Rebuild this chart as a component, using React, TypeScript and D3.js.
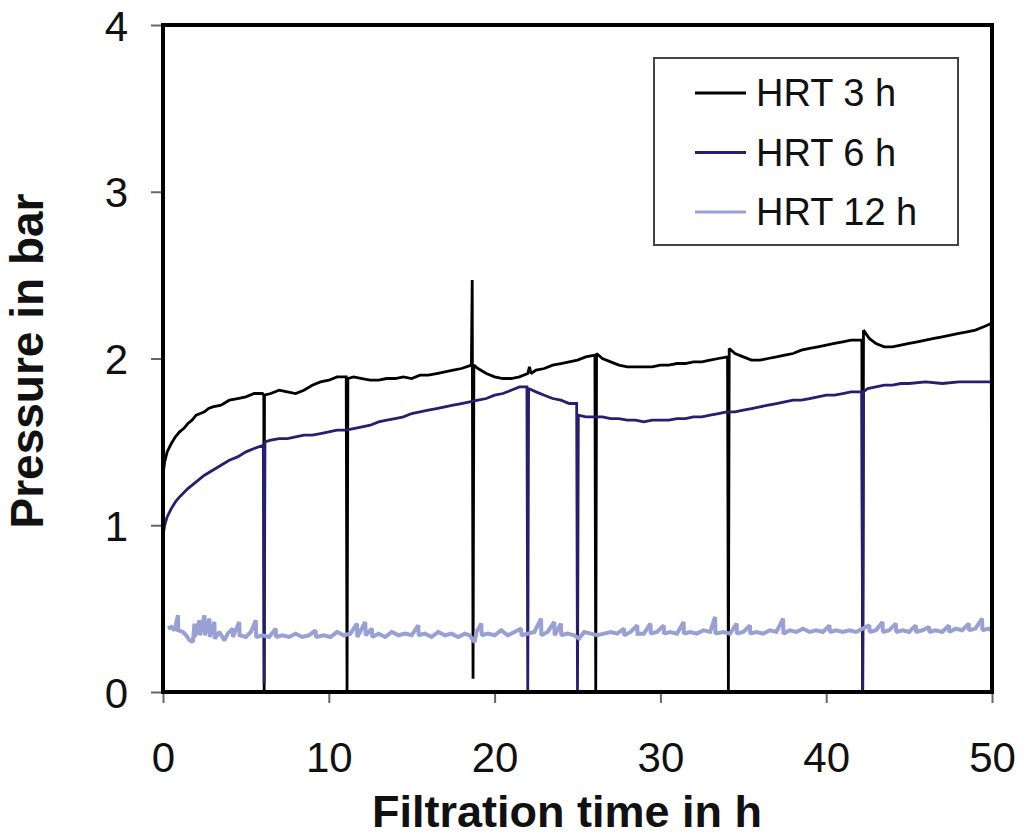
import * as d3 from 'd3';
import React, { useEffect, useRef } from 'react';

// Transmembrane pressure readings, [filtration time in h, pressure in bar]
const hrt3: [number, number][] = [
  [0, 1.3], [0.1, 1.38], [0.25, 1.44], [0.5, 1.49], [0.75, 1.53], [1, 1.56], [1.25, 1.58], [1.5, 1.61],
  [1.75, 1.63], [2, 1.66], [2.25, 1.67], [2.5, 1.68], [2.75, 1.7], [3, 1.71], [3.5, 1.72], [4, 1.75], [4.5, 1.76], [5, 1.77],
  [5.5, 1.79], [6, 1.79], [6.08, 1.78], [6.1, 0.0], [6.12, 1.78], [6.5, 1.79], [7, 1.81],
  [7.5, 1.8], [8, 1.79], [8.5, 1.81], [9, 1.84], [9.5, 1.86], [10, 1.87], [10.5, 1.89],
  [11.05, 1.89], [11.1, 0.0], [11.15, 1.88], [11.5, 1.89], [12, 1.88], [12.5, 1.87],
  [13, 1.87], [13.5, 1.88], [14, 1.88], [14.5, 1.89], [15, 1.88], [15.5, 1.9], [16, 1.9],
  [16.5, 1.91], [17, 1.92], [17.5, 1.93], [18, 1.94], [18.6, 1.96], [18.65, 2.47],
  [18.7, 0.08], [18.75, 1.96], [19, 1.94], [19.5, 1.91], [20, 1.89], [20.5, 1.88],
  [21, 1.88], [21.5, 1.89], [22, 1.91], [22.1, 1.95], [22.2, 1.91], [22.5, 1.93],
  [23, 1.94], [23.5, 1.96], [24, 1.97], [24.5, 1.98], [25, 1.99], [25.5, 2.01],
  [26.05, 2.02], [26.1, 0.0], [26.15, 2.03], [26.5, 2.0], [27, 1.98], [27.5, 1.96],
  [28, 1.95], [28.5, 1.95], [29, 1.95], [29.5, 1.95], [30, 1.96], [30.5, 1.96], [31, 1.97],
  [31.5, 1.97], [32, 1.98], [32.5, 1.98], [33, 1.99], [33.5, 2.0], [34.05, 2.01],
  [34.1, 0.0], [34.15, 2.06], [34.5, 2.03], [35, 2.01], [35.5, 1.99], [36, 1.99],
  [36.5, 2.0], [37, 2.01], [37.5, 2.02], [38, 2.03], [38.5, 2.05], [39, 2.06], [39.5, 2.07],
  [40, 2.08], [40.5, 2.09], [41, 2.1], [41.5, 2.11], [42.15, 2.11], [42.2, 0.0],
  [42.25, 2.17], [42.6, 2.12], [43, 2.09], [43.5, 2.07], [44, 2.07], [44.5, 2.08],
  [45, 2.09], [45.5, 2.1], [46, 2.11], [46.5, 2.12], [47, 2.13], [47.5, 2.14], [48, 2.15],
  [48.5, 2.16], [49, 2.17], [49.5, 2.19], [49.95, 2.21], [50, 0.0],
];

const hrt6: [number, number][] = [
  [0, 0.0], [0.02, 0.95], [0.1, 1.0], [0.25, 1.05], [0.5, 1.1], [0.75, 1.14], [1, 1.17],
  [1.5, 1.22], [2, 1.26], [2.5, 1.3], [3, 1.33], [3.5, 1.36], [4, 1.39], [4.5, 1.41],
  [5, 1.44], [5.5, 1.46], [6.05, 1.48], [6.1, 0.05], [6.15, 1.5], [6.5, 1.51], [7, 1.52],
  [7.5, 1.52], [8, 1.53], [8.5, 1.54], [9, 1.54], [9.5, 1.55], [10, 1.56], [10.5, 1.57],
  [11, 1.57], [11.5, 1.58], [12, 1.59], [12.5, 1.6], [13, 1.62], [13.5, 1.63], [14, 1.64],
  [14.5, 1.65], [15, 1.67], [15.5, 1.68], [16, 1.69], [16.5, 1.7], [17, 1.71], [17.5, 1.72],
  [18, 1.73], [18.5, 1.74], [19, 1.75], [19.5, 1.76], [20, 1.78], [20.5, 1.79], [21, 1.81],
  [21.5, 1.83], [21.95, 1.83], [22, 0.0], [22.05, 1.82], [22.5, 1.8], [23, 1.78],
  [23.5, 1.76], [24, 1.75], [24.5, 1.73], [24.95, 1.73], [25, 0.0], [25.05, 1.66],
  [25.5, 1.65], [26, 1.65], [26.5, 1.65], [27, 1.64], [27.5, 1.64], [28, 1.63],
  [28.5, 1.63], [29, 1.62], [29.5, 1.63], [30, 1.63], [30.5, 1.63], [31, 1.64], [31.5, 1.64],
  [32, 1.65], [32.5, 1.65], [33, 1.66], [33.5, 1.67], [34, 1.68], [34.5, 1.68], [35, 1.69],
  [35.5, 1.7], [36, 1.71], [36.5, 1.72], [37, 1.73], [37.5, 1.74], [38, 1.75], [38.5, 1.75],
  [39, 1.76], [39.5, 1.77], [40, 1.78], [40.5, 1.78], [41, 1.79], [41.5, 1.8], [42.15, 1.8],
  [42.2, 0.0], [42.25, 1.8], [42.5, 1.82], [43, 1.83], [43.5, 1.84], [44, 1.84],
  [44.5, 1.85], [45, 1.85], [46, 1.86], [47, 1.85], [48, 1.86], [49, 1.86], [50, 1.86],
];

const hrt12: [number, number][] = [
  [0.3, 0.38], [0.5, 0.39], [0.7, 0.37], [0.9, 0.46], [0.92, 0.37], [1.2, 0.36], [1.4, 0.34],
  [1.6, 0.31], [1.8, 0.3], [1.9, 0.41], [1.92, 0.33], [2.2, 0.43], [2.22, 0.34], [2.5, 0.46],
  [2.52, 0.34], [2.8, 0.44], [2.82, 0.33], [3.1, 0.42], [3.12, 0.32], [3.4, 0.36], [3.7, 0.31],
  [3.9, 0.35], [4.2, 0.38], [4.22, 0.33], [4.6, 0.42], [4.62, 0.34], [5, 0.33], [5.3, 0.36],
  [5.6, 0.43], [5.62, 0.33], [6, 0.34], [6.4, 0.33], [6.8, 0.38], [6.82, 0.33], [7.2, 0.34],
  [7.6, 0.33], [8, 0.35], [8.4, 0.33], [8.8, 0.34], [9.2, 0.37], [9.22, 0.33], [9.7, 0.34],
  [10.1, 0.33], [10.5, 0.36], [10.9, 0.34], [11.3, 0.35], [11.7, 0.41], [11.72, 0.33],
  [12.2, 0.42], [12.22, 0.34], [12.6, 0.38], [12.62, 0.33], [13, 0.35], [13.4, 0.33],
  [13.8, 0.36], [14.2, 0.34], [14.6, 0.35], [15, 0.34], [15.4, 0.4], [15.42, 0.34],
  [15.8, 0.35], [16.2, 0.33], [16.6, 0.36], [17, 0.34], [17.4, 0.35], [17.8, 0.33],
  [18.2, 0.35], [18.5, 0.34], [18.7, 0.31], [18.8, 0.3], [18.9, 0.36], [19.2, 0.41],
  [19.22, 0.34], [19.6, 0.35], [20, 0.34], [20.4, 0.37], [20.8, 0.34], [21.2, 0.36],
  [21.6, 0.38], [21.62, 0.34], [22, 0.35], [22.4, 0.36], [22.8, 0.44], [22.82, 0.34],
  [23.2, 0.36], [23.6, 0.42], [23.62, 0.34], [24, 0.41], [24.02, 0.34], [24.4, 0.35],
  [24.8, 0.34], [25.1, 0.32], [25.4, 0.36], [25.8, 0.35], [26.2, 0.34], [26.6, 0.35],
  [27, 0.36], [27.4, 0.35], [27.8, 0.38], [27.82, 0.34], [28.2, 0.36], [28.6, 0.4],
  [28.62, 0.35], [29, 0.35], [29.4, 0.41], [29.42, 0.35], [29.8, 0.36], [30.2, 0.4],
  [30.22, 0.35], [30.6, 0.36], [31, 0.35], [31.4, 0.42], [31.42, 0.35], [31.8, 0.36],
  [32.2, 0.35], [32.6, 0.37], [33, 0.36], [33.3, 0.45], [33.32, 0.35], [33.8, 0.36],
  [34.2, 0.35], [34.6, 0.41], [34.62, 0.35], [35, 0.36], [35.4, 0.4], [35.42, 0.35],
  [35.8, 0.36], [36.2, 0.35], [36.6, 0.37], [37, 0.36], [37.4, 0.44], [37.42, 0.35],
  [37.8, 0.37], [38.2, 0.36], [38.6, 0.38], [39, 0.36], [39.4, 0.37], [39.8, 0.36],
  [40.2, 0.4], [40.22, 0.36], [40.6, 0.37], [41, 0.36], [41.4, 0.37], [41.8, 0.36],
  [42.2, 0.38], [42.6, 0.4], [42.62, 0.36], [43, 0.37], [43.4, 0.42], [43.42, 0.36],
  [43.8, 0.37], [44.2, 0.41], [44.22, 0.36], [44.6, 0.37], [45, 0.36], [45.4, 0.4],
  [45.42, 0.36], [45.8, 0.37], [46.2, 0.39], [46.22, 0.36], [46.6, 0.37], [47, 0.36],
  [47.4, 0.4], [47.42, 0.36], [47.8, 0.38], [48.2, 0.37], [48.6, 0.41], [48.62, 0.37],
  [49, 0.38], [49.4, 0.44], [49.42, 0.37], [49.8, 0.38], [49.95, 0.37],
];

const seriesNames = ['HRT 3 h', 'HRT 6 h', 'HRT 12 h'];
const seriesColors = ['#000000', '#24206f', '#98a0d4'];
const xTicks = [0, 10, 20, 30, 40, 50];
const yTicks = [0, 1, 2, 3, 4];

const font = 'Arial, "Liberation Sans", sans-serif';

const App: React.FC = () => {
  const svgRef = useRef<SVGSVGElement>(null);
  const width = 1024;
  const height = 838;

  useEffect(() => {
    if (!svgRef.current) return;
    const svg = d3.select(svgRef.current);
    svg.selectAll('*').remove();

    const left = 163, right = 992, top = 25, bottom = 692;

    const x = d3.scaleLinear().domain([0, 50]).range([left, right]);
    const y = d3.scaleLinear().domain([0, 4]).range([bottom, top]);

    // axes (ticks outward, grey)
    const xAxis = svg.append('g')
      .attr('transform', `translate(0, ${bottom})`)
      .call(d3.axisBottom(x).tickValues(xTicks).tickFormat(d3.format('d'))
        .tickSize(11).tickSizeOuter(0).tickPadding(39));
    xAxis.select('.domain').remove();
    xAxis.selectAll('line').attr('stroke', '#666').attr('stroke-width', 2);
    xAxis.selectAll('text')
      .attr('fill', '#111')
      .style('font-size', '42px')
      .style('font-family', font);

    const yAxis = svg.append('g')
      .attr('transform', `translate(${left}, 0)`)
      .call(d3.axisLeft(y).tickValues(yTicks).tickFormat(d3.format('d'))
        .tickSize(12).tickSizeOuter(0).tickPadding(23));
    yAxis.select('.domain').remove();
    yAxis.selectAll('line').attr('stroke', '#666').attr('stroke-width', 2);
    yAxis.selectAll('text')
      .attr('fill', '#111')
      .attr('dy', '0.36em')
      .style('font-size', '42px')
      .style('font-family', font);

    const line = d3.line<[number, number]>()
      .x(d => x(d[0]))
      .y(d => y(d[1]))
      .curve(d3.curveLinear);

    const data = [hrt3, hrt6, hrt12];
    const widths = [2.8, 2.8, 4];
    data.forEach((s, i) => {
      svg.append('path')
        .datum(s)
        .attr('d', line)
        .attr('fill', 'none')
        .attr('stroke', seriesColors[i])
        .attr('stroke-width', widths[i])
        .attr('stroke-linejoin', 'miter')
        .attr('stroke-miterlimit', 1.5);
    });

    // plot frame
    svg.append('rect')
      .attr('x', left)
      .attr('y', top)
      .attr('width', right - left)
      .attr('height', bottom - top)
      .attr('fill', 'none')
      .attr('stroke', '#000')
      .attr('stroke-width', 4);

    // legend
    const legend = svg.append('g');
    legend.append('rect')
      .attr('x', 654).attr('y', 58)
      .attr('width', 304).attr('height', 187)
      .attr('fill', '#fff')
      .attr('stroke', '#444')
      .attr('stroke-width', 2);
    seriesNames.forEach((name, i) => {
      const cy = 93 + i * 59.5;
      legend.append('line')
        .attr('x1', 695).attr('x2', 746)
        .attr('y1', cy).attr('y2', cy)
        .attr('stroke', seriesColors[i])
        .attr('stroke-width', 3);
      legend.append('text')
        .attr('x', 756)
        .attr('y', cy + 13)
        .attr('fill', '#111')
        .style('font-size', '38px')
        .style('font-family', font)
        .text(name);
    });

    // axis titles
    svg.append('text')
      .attr('x', 567)
      .attr('y', 827)
      .attr('text-anchor', 'middle')
      .attr('fill', '#111')
      .style('font-size', '45px')
      .style('font-weight', 'bold')
      .style('font-family', font)
      .text('Filtration time in h');

    svg.append('text')
      .attr('transform', `translate(43, 361) rotate(-90)`)
      .attr('text-anchor', 'middle')
      .attr('fill', '#111')
      .style('font-size', '46px')
      .style('font-weight', 'bold')
      .style('font-family', font)
      .text('Pressure in bar');
  }, []);

  return (
    <svg
      ref={svgRef}
      width={width}
      height={height}
      style={{ position: 'absolute', left: 0, top: 0, background: '#fff' }}
    />
  );
};

export default App;
